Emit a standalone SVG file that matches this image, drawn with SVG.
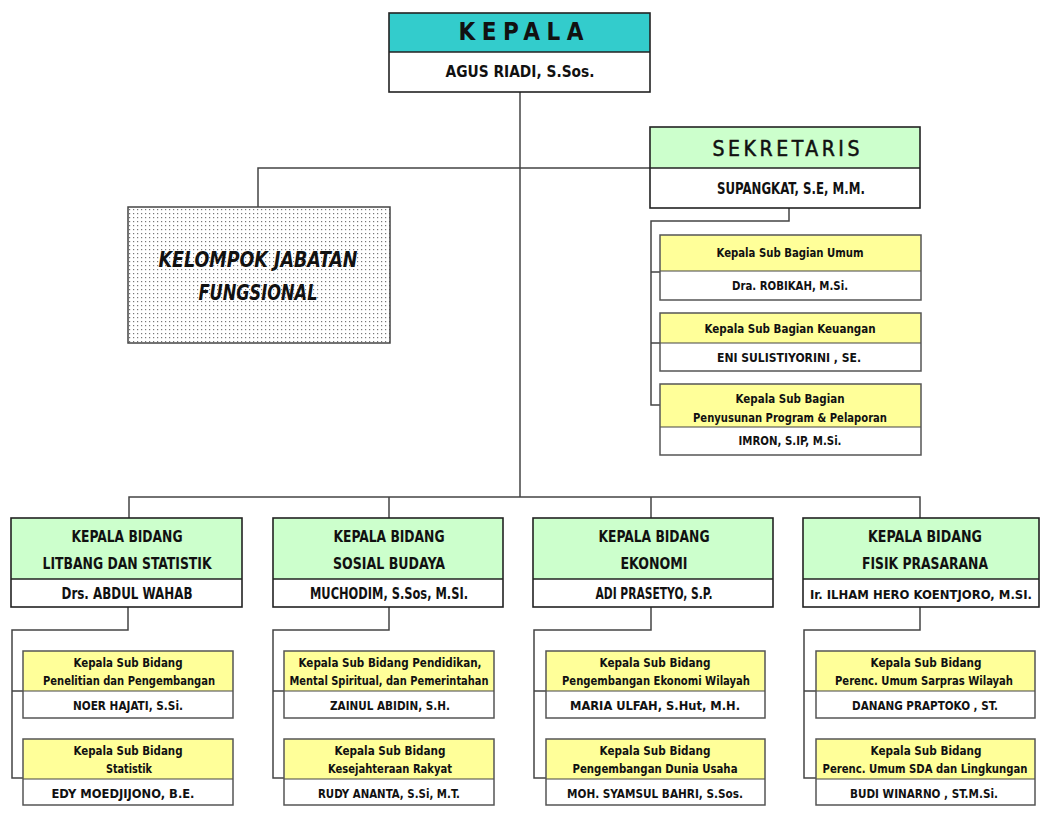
<svg xmlns="http://www.w3.org/2000/svg" width="1040" height="814" viewBox="0 0 1040 814">
<style>
.bx{fill:none;stroke:#222;stroke-width:1.6}
.dv{stroke:#222;stroke-width:1.3}
.sb{fill:none;stroke:#555;stroke-width:1.5}
.sdv{stroke:#444;stroke-width:1.2}
.teal{fill:#33CCCC}
.grn{fill:#CCFFCC}
.yel{fill:#FFFF99}
.wht{fill:#FFFFFF}
.t{font-family:"Liberation Sans Narrow","DejaVu Sans Condensed","Liberation Sans",sans-serif;font-weight:bold;fill:#111;text-anchor:middle}
.conn{fill:none;stroke:#444;stroke-width:1.5}
</style>
<defs>
<pattern id="dots" width="4" height="4" patternUnits="userSpaceOnUse">
<rect width="4" height="4" fill="#fff"/>
<rect x="1" y="1" width="1.2" height="1.2" fill="#777"/>
</pattern>
</defs>
<rect width="1040" height="814" fill="#fff"/>

<g id="connectors">
<path class="conn" d="M520 92 V497"/>
<path class="conn" d="M258 207 V168 H650"/>
<path class="conn" d="M789 208 V221 H651 V405 H660 M651 272 H660 M651 343 H660"/>
<path class="conn" d="M129 518 V497 H920 V518 M389 497 V518 M651 497 V518"/>
<path class="conn" d="M128 607 V630 H12 V778 H23 M12 691 H23"/>
<path class="conn" d="M389 607 V630 H273 V778 H284 M273 691 H284"/>
<path class="conn" d="M651 607 V630 H534 V778 H546 M534 691 H546"/>
<path class="conn" d="M920 607 V630 H804 V778 H816 M804 691 H816"/>
</g>

<g id="kepala">
<rect class="teal" x="389" y="13" width="261" height="39"/>
<rect class="wht" x="389" y="52" width="261" height="40"/>
<line class="dv" x1="389" y1="52" x2="650" y2="52"/>
<rect class="bx" x="389" y="13" width="261" height="79"/>
<text class="t" x="521" y="40" font-size="24" textLength="125" lengthAdjust="spacing" font-family="Liberation Sans">KEPALA</text>
<text class="t" x="520" y="77" font-size="16" textLength="149" lengthAdjust="spacingAndGlyphs">AGUS RIADI, S.Sos.</text>
</g>

<g id="sekretaris">
<rect class="grn" x="650" y="127" width="270" height="41"/>
<rect class="wht" x="650" y="168" width="270" height="40"/>
<line class="dv" x1="650" y1="168" x2="920" y2="168"/>
<rect class="bx" x="650" y="127" width="270" height="81"/>
<text class="t" x="786" y="156" font-size="21" textLength="147" lengthAdjust="spacing" font-family="Liberation Sans" style="font-weight:normal;stroke:#111;stroke-width:0.5">SEKRETARIS</text>
<text class="t" x="791" y="194" font-size="15" textLength="148" lengthAdjust="spacingAndGlyphs">SUPANGKAT, S.E, M.M.</text>
</g>

<g id="kelompok">
<rect x="128" y="207" width="262" height="136" fill="url(#dots)" stroke="#444" stroke-width="1.5"/>
<text class="t" x="258" y="267" font-size="22" font-style="italic" textLength="199" lengthAdjust="spacingAndGlyphs">KELOMPOK JABATAN</text>
<text class="t" x="258" y="300" font-size="22" font-style="italic" textLength="119" lengthAdjust="spacingAndGlyphs">FUNGSIONAL</text>
</g>

<g id="subbag-umum">
<rect class="yel" x="660" y="235" width="261" height="36"/>
<rect class="wht" x="660" y="271" width="261" height="29"/>
<line class="sdv" x1="660" y1="271" x2="921" y2="271"/>
<rect class="sb" x="660" y="235" width="261" height="65"/>
<text class="t" x="790" y="257" font-size="13" textLength="147" lengthAdjust="spacingAndGlyphs">Kepala Sub Bagian Umum</text>
<text class="t" x="790" y="290" font-size="13" textLength="116" lengthAdjust="spacingAndGlyphs">Dra. ROBIKAH, M.Si.</text>
</g>

<g id="subbag-keuangan">
<rect class="yel" x="660" y="313" width="261" height="30"/>
<rect class="wht" x="660" y="343" width="261" height="28"/>
<line class="sdv" x1="660" y1="343" x2="921" y2="343"/>
<rect class="sb" x="660" y="313" width="261" height="58"/>
<text class="t" x="790" y="333" font-size="13" textLength="171" lengthAdjust="spacingAndGlyphs">Kepala Sub Bagian Keuangan</text>
<text class="t" x="789" y="362" font-size="13" textLength="144" lengthAdjust="spacingAndGlyphs">ENI SULISTIYORINI , SE.</text>
</g>

<g id="subbag-program">
<rect class="yel" x="660" y="384" width="261" height="43"/>
<rect class="wht" x="660" y="427" width="261" height="28"/>
<line class="sdv" x1="660" y1="427" x2="921" y2="427"/>
<rect class="sb" x="660" y="384" width="261" height="71"/>
<text class="t" x="790" y="403" font-size="13" textLength="109" lengthAdjust="spacingAndGlyphs">Kepala Sub Bagian</text>
<text class="t" x="790" y="422" font-size="13" textLength="194" lengthAdjust="spacingAndGlyphs">Penyusunan Program &amp; Pelaporan</text>
<text class="t" x="790" y="445" font-size="13" textLength="103" lengthAdjust="spacingAndGlyphs">IMRON, S.IP, M.Si.</text>
</g>

<g id="bidang-litbang">
<rect class="grn" x="11" y="518" width="231" height="61"/>
<rect class="wht" x="11" y="579" width="231" height="28"/>
<line class="dv" x1="11" y1="579" x2="242" y2="579"/>
<rect class="bx" x="11" y="518" width="231" height="89"/>
<text class="t" x="127" y="542" font-size="15" textLength="111" lengthAdjust="spacingAndGlyphs">KEPALA BIDANG</text>
<text class="t" x="127" y="569" font-size="15" textLength="169" lengthAdjust="spacingAndGlyphs">LITBANG DAN STATISTIK</text>
<text class="t" x="127" y="599" font-size="15" textLength="131" lengthAdjust="spacingAndGlyphs">Drs. ABDUL WAHAB</text>
</g>

<g id="bidang-sosbud">
<rect class="grn" x="273" y="518" width="230" height="61"/>
<rect class="wht" x="273" y="579" width="230" height="28"/>
<line class="dv" x1="273" y1="579" x2="503" y2="579"/>
<rect class="bx" x="273" y="518" width="230" height="89"/>
<text class="t" x="389" y="542" font-size="15" textLength="111" lengthAdjust="spacingAndGlyphs">KEPALA BIDANG</text>
<text class="t" x="389" y="569" font-size="15" textLength="112" lengthAdjust="spacingAndGlyphs">SOSIAL BUDAYA</text>
<text class="t" x="389" y="599" font-size="15" textLength="158" lengthAdjust="spacingAndGlyphs">MUCHODIM, S.Sos, M.SI.</text>
</g>

<g id="bidang-ekonomi">
<rect class="grn" x="533" y="518" width="240" height="61"/>
<rect class="wht" x="533" y="579" width="240" height="28"/>
<line class="dv" x1="533" y1="579" x2="773" y2="579"/>
<rect class="bx" x="533" y="518" width="240" height="89"/>
<text class="t" x="654" y="542" font-size="15" textLength="111" lengthAdjust="spacingAndGlyphs">KEPALA BIDANG</text>
<text class="t" x="654" y="569" font-size="15" textLength="67" lengthAdjust="spacingAndGlyphs">EKONOMI</text>
<text class="t" x="654" y="599" font-size="15" textLength="117" lengthAdjust="spacingAndGlyphs">ADI PRASETYO, S.P.</text>
</g>

<g id="bidang-fisik">
<rect class="grn" x="803" y="518" width="236" height="61"/>
<rect class="wht" x="803" y="579" width="236" height="28"/>
<line class="dv" x1="803" y1="579" x2="1039" y2="579"/>
<rect class="bx" x="803" y="518" width="236" height="89"/>
<text class="t" x="925" y="542" font-size="15" textLength="114" lengthAdjust="spacingAndGlyphs">KEPALA BIDANG</text>
<text class="t" x="925" y="569" font-size="15" textLength="126" lengthAdjust="spacingAndGlyphs">FISIK PRASARANA</text>
<text class="t" x="921" y="599" font-size="13" textLength="222" lengthAdjust="spacingAndGlyphs">Ir. ILHAM HERO KOENTJORO, M.SI.</text>
</g>

<g id="subbid-penelitian">
<rect class="yel" x="23" y="651" width="210" height="40"/>
<rect class="wht" x="23" y="691" width="210" height="27"/>
<line class="sdv" x1="23" y1="691" x2="233" y2="691"/>
<rect class="sb" x="23" y="651" width="210" height="67"/>
<text class="t" x="128" y="667" font-size="12" textLength="109" lengthAdjust="spacingAndGlyphs">Kepala Sub Bidang</text>
<text class="t" x="129" y="685" font-size="12" textLength="172" lengthAdjust="spacingAndGlyphs">Penelitian dan Pengembangan</text>
<text class="t" x="128" y="710" font-size="12" textLength="110" lengthAdjust="spacingAndGlyphs">NOER HAJATI, S.Si.</text>
</g>

<g id="subbid-statistik">
<rect class="yel" x="23" y="739" width="210" height="40"/>
<rect class="wht" x="23" y="779" width="210" height="26"/>
<line class="sdv" x1="23" y1="779" x2="233" y2="779"/>
<rect class="sb" x="23" y="739" width="210" height="66"/>
<text class="t" x="128" y="755" font-size="12" textLength="109" lengthAdjust="spacingAndGlyphs">Kepala Sub Bidang</text>
<text class="t" x="129" y="773" font-size="12" textLength="46" lengthAdjust="spacingAndGlyphs">Statistik</text>
<text class="t" x="123" y="798" font-size="12" textLength="143" lengthAdjust="spacingAndGlyphs">EDY MOEDJIJONO, B.E.</text>
</g>

<g id="subbid-pendidikan">
<rect class="yel" x="284" y="651" width="210" height="40"/>
<rect class="wht" x="284" y="691" width="210" height="27"/>
<line class="sdv" x1="284" y1="691" x2="494" y2="691"/>
<rect class="sb" x="284" y="651" width="210" height="67"/>
<text class="t" x="390" y="667" font-size="12" textLength="183" lengthAdjust="spacingAndGlyphs">Kepala Sub Bidang Pendidikan,</text>
<text class="t" x="389" y="685" font-size="11.5" textLength="199" lengthAdjust="spacingAndGlyphs">Mental Spiritual, dan Pemerintahan</text>
<text class="t" x="390" y="710" font-size="12" textLength="120" lengthAdjust="spacingAndGlyphs">ZAINUL ABIDIN, S.H.</text>
</g>

<g id="subbid-kesra">
<rect class="yel" x="284" y="739" width="210" height="40"/>
<rect class="wht" x="284" y="779" width="210" height="26"/>
<line class="sdv" x1="284" y1="779" x2="494" y2="779"/>
<rect class="sb" x="284" y="739" width="210" height="66"/>
<text class="t" x="390" y="755" font-size="12" textLength="111" lengthAdjust="spacingAndGlyphs">Kepala Sub Bidang</text>
<text class="t" x="390" y="773" font-size="12" textLength="124" lengthAdjust="spacingAndGlyphs">Kesejahteraan Rakyat</text>
<text class="t" x="389" y="798" font-size="12" textLength="142" lengthAdjust="spacingAndGlyphs">RUDY ANANTA, S.Si, M.T.</text>
</g>

<g id="subbid-ekowil">
<rect class="yel" x="546" y="651" width="219" height="40"/>
<rect class="wht" x="546" y="691" width="219" height="27"/>
<line class="sdv" x1="546" y1="691" x2="765" y2="691"/>
<rect class="sb" x="546" y="651" width="219" height="67"/>
<text class="t" x="655" y="667" font-size="12" textLength="111" lengthAdjust="spacingAndGlyphs">Kepala Sub Bidang</text>
<text class="t" x="656" y="685" font-size="12" textLength="188" lengthAdjust="spacingAndGlyphs">Pengembangan Ekonomi Wilayah</text>
<text class="t" x="655" y="710" font-size="12" textLength="170" lengthAdjust="spacingAndGlyphs">MARIA ULFAH, S.Hut, M.H.</text>
</g>

<g id="subbid-usaha">
<rect class="yel" x="546" y="739" width="219" height="40"/>
<rect class="wht" x="546" y="779" width="219" height="26"/>
<line class="sdv" x1="546" y1="779" x2="765" y2="779"/>
<rect class="sb" x="546" y="739" width="219" height="66"/>
<text class="t" x="655" y="755" font-size="12" textLength="111" lengthAdjust="spacingAndGlyphs">Kepala Sub Bidang</text>
<text class="t" x="655" y="773" font-size="12" textLength="165" lengthAdjust="spacingAndGlyphs">Pengembangan Dunia Usaha</text>
<text class="t" x="655" y="798" font-size="12" textLength="176" lengthAdjust="spacingAndGlyphs">MOH. SYAMSUL BAHRI, S.Sos.</text>
</g>

<g id="subbid-sarpras">
<rect class="yel" x="816" y="651" width="219" height="40"/>
<rect class="wht" x="816" y="691" width="219" height="27"/>
<line class="sdv" x1="816" y1="691" x2="1035" y2="691"/>
<rect class="sb" x="816" y="651" width="219" height="67"/>
<text class="t" x="926" y="667" font-size="12" textLength="111" lengthAdjust="spacingAndGlyphs">Kepala Sub Bidang</text>
<text class="t" x="924" y="685" font-size="12" textLength="178" lengthAdjust="spacingAndGlyphs">Perenc. Umum Sarpras Wilayah</text>
<text class="t" x="925" y="710" font-size="12" textLength="146" lengthAdjust="spacingAndGlyphs">DANANG PRAPTOKO , ST.</text>
</g>

<g id="subbid-sda">
<rect class="yel" x="816" y="739" width="219" height="40"/>
<rect class="wht" x="816" y="779" width="219" height="26"/>
<line class="sdv" x1="816" y1="779" x2="1035" y2="779"/>
<rect class="sb" x="816" y="739" width="219" height="66"/>
<text class="t" x="926" y="755" font-size="12" textLength="111" lengthAdjust="spacingAndGlyphs">Kepala Sub Bidang</text>
<text class="t" x="925" y="773" font-size="11.5" textLength="205" lengthAdjust="spacingAndGlyphs">Perenc. Umum SDA dan Lingkungan</text>
<text class="t" x="924" y="798" font-size="12" textLength="148" lengthAdjust="spacingAndGlyphs">BUDI WINARNO , ST.M.Si.</text>
</g>
</svg>
